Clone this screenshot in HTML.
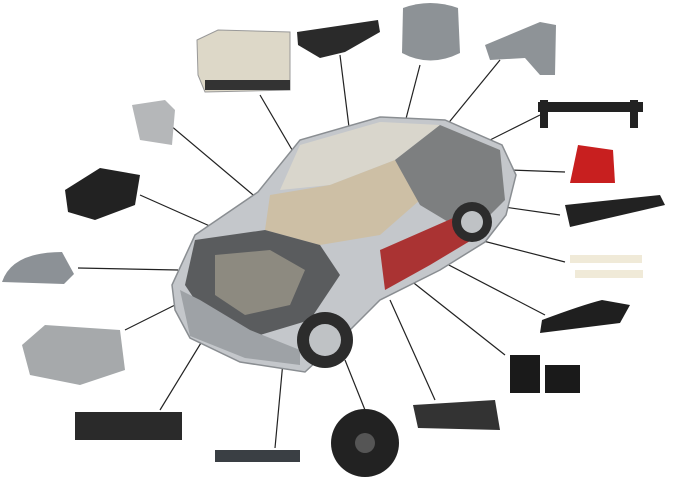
<!DOCTYPE html>
<html><head><style>html,body{margin:0;padding:0;background:#fff}svg{display:block}</style></head>
<body>
<svg width="676" height="482" viewBox="0 0 676 482" xmlns="http://www.w3.org/2000/svg">
<rect width="676" height="482" fill="#fff"/>
<!-- connector lines -->
<g stroke="#222" stroke-width="1.2" fill="none">
<line x1="260" y1="95" x2="298" y2="160"/>
<line x1="340" y1="55" x2="350" y2="135"/>
<line x1="420" y1="65" x2="390" y2="180"/>
<line x1="500" y1="60" x2="410" y2="170"/>
<line x1="540" y1="115" x2="470" y2="150"/>
<line x1="565" y1="172" x2="510" y2="170"/>
<line x1="560" y1="215" x2="490" y2="205"/>
<line x1="565" y1="262" x2="460" y2="235"/>
<line x1="545" y1="315" x2="420" y2="250"/>
<line x1="505" y1="355" x2="410" y2="280"/>
<line x1="435" y1="400" x2="390" y2="300"/>
<line x1="365" y1="410" x2="345" y2="360"/>
<line x1="275" y1="448" x2="285" y2="340"/>
<line x1="160" y1="410" x2="215" y2="320"/>
<line x1="125" y1="330" x2="185" y2="300"/>
<line x1="78" y1="268" x2="178" y2="270"/>
<line x1="140" y1="195" x2="230" y2="235"/>
<line x1="170" y1="125" x2="265" y2="205"/>
</g>
<!-- car body -->
<polygon points="172,285 195,235 258,192 300,140 380,117 445,120 502,145 516,175 506,215 485,242 440,270 380,300 345,335 305,372 240,362 190,338 175,310" fill="#c4c7cb" stroke="#8a8e92" stroke-width="1.5"/>
<polygon points="300,145 380,122 440,125 395,160 330,185 280,190" fill="#d9d6cc"/>
<polygon points="270,195 330,185 395,160 420,200 380,235 320,245 265,230" fill="#cdbfa5"/>
<polygon points="395,160 440,125 500,150 505,200 470,235 420,205" fill="#7d7f80"/>
<polygon points="195,240 265,230 320,245 340,275 310,320 260,335 205,315 185,285" fill="#5a5c5e"/>
<polygon points="215,255 270,250 305,270 290,305 245,315 215,295" fill="#8d8a80"/>
<polygon points="180,290 200,300 250,330 300,350 300,365 245,358 190,336" fill="#9ea2a6"/>
<polygon points="380,250 460,215 480,235 430,265 385,290" fill="#a33"/>
<circle cx="325" cy="340" r="28" fill="#2c2c2c"/><circle cx="325" cy="340" r="16" fill="#bfc2c5"/>
<circle cx="472" cy="222" r="20" fill="#2c2c2c"/><circle cx="472" cy="222" r="11" fill="#bfc2c5"/>
<!-- parts -->
<polygon points="197,40 218,30 290,32 290,90 205,92 198,75" fill="#ddd8c8" stroke="#999"/>
<rect x="205" y="80" width="85" height="10" fill="#333"/>
<polygon points="297,32 378,20 380,32 345,52 320,58 298,45" fill="#2a2a2a"/>
<path d="M403,8 q27,-10 55,0 l2,45 q-30,15 -58,0z" fill="#8d9296"/>
<polygon points="485,45 540,22 556,25 555,75 540,75 525,58 490,60" fill="#8e9397"/>
<rect x="538" y="102" width="105" height="10" fill="#222"/><rect x="540" y="100" width="8" height="28" fill="#222"/><rect x="630" y="100" width="8" height="28" fill="#222"/>
<path d="M578,145 l35,5 2,33 -45,0 z" fill="#c81f1f"/>
<path d="M565,205 l95,-10 5,10 -95,22z" fill="#222"/>
<rect x="570" y="255" width="72" height="8" fill="#f0ead8"/><rect x="575" y="270" width="68" height="8" fill="#f0ead8"/>
<path d="M542,320 q40,-15 60,-20 l28,5 -10,18 -80,10z" fill="#1f1f1f"/>
<rect x="510" y="355" width="30" height="38" fill="#1a1a1a"/><rect x="545" y="365" width="35" height="28" fill="#1a1a1a"/>
<polygon points="413,405 495,400 500,430 418,428" fill="#333"/>
<circle cx="365" cy="443" r="34" fill="#222"/><circle cx="365" cy="443" r="10" fill="#555"/>
<rect x="215" y="450" width="85" height="12" fill="#3a3f44"/>
<rect x="75" y="412" width="107" height="28" fill="#2a2a2a"/>
<polygon points="22,345 45,325 120,330 125,370 80,385 30,375" fill="#a6a9ab"/>
<path d="M2,282 q10,-30 60,-30 l12,22 -10,10 z" fill="#8c9196"/>
<polygon points="65,190 100,168 140,175 135,205 95,220 68,212" fill="#222"/>
<polygon points="132,105 165,100 175,110 172,145 140,140" fill="#b5b7b9"/>
</svg>
</body></html>
